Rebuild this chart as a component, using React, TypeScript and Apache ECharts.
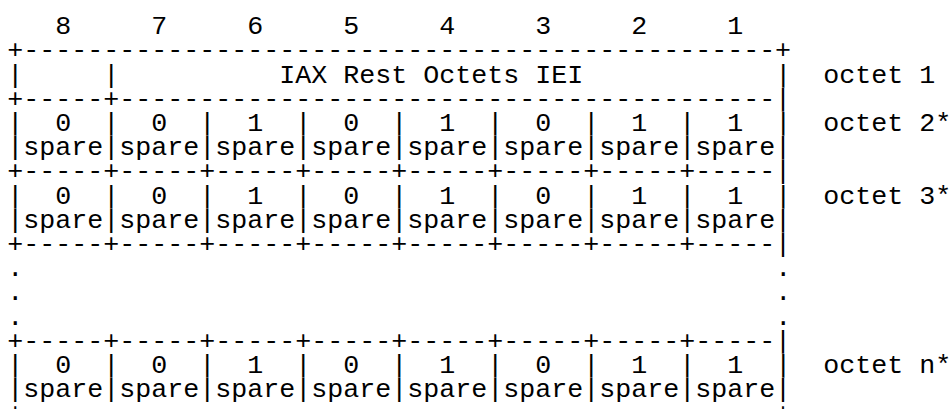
import React, { useEffect, useRef } from 'react';
import * as echarts from 'echarts';

// ---- data ----
const bitNumbers = [8, 7, 6, 5, 4, 3, 2, 1];
const bitValues = [0, 0, 1, 0, 1, 0, 1, 1];
const fieldName = 'spare';
const ieiName = 'IAX Rest Octets IEI';
const octetLabels = ['octet 1', 'octet 2*', 'octet 3*', 'octet n*'];

// ---- layout ----
const CELL = 5;
const IEI_INDENT = 10;
const FONT_SIZE = 26.66;
const COL_W = 16;
const LINE_H = 24.2;
const X0 = 7.3;
const Y0 = 27.2;
const W = 950;
const H = 409;

function buildLines(): string[] {
  const inner = bitNumbers.length * (CELL + 1) - 1;
  const header = bitNumbers.map((n) => '   ' + n + '  ').join('');
  const fullBorder = '+' + '-'.repeat(inner) + '+';
  const cellBorder = bitNumbers.map(() => '+' + '-'.repeat(CELL)).join('') + '|';
  const valueRow = (label: string) => bitValues.map((v) => '|  ' + v + '  ').join('') + '|  ' + label;
  const nameRow = bitValues.map(() => '|' + fieldName).join('') + '|';
  const ieiInner = inner - CELL - 1;
  const ieiRow = '|' + ' '.repeat(CELL) + '|' + (' '.repeat(IEI_INDENT) + ieiName).padEnd(ieiInner) + '|  ' + octetLabels[0];
  const ieiBorder = '+' + '-'.repeat(CELL) + '+' + '-'.repeat(ieiInner) + '|';
  const dots = '.' + ' '.repeat(inner) + '.';
  return [
    header,
    fullBorder,
    ieiRow,
    ieiBorder,
    valueRow(octetLabels[1]),
    nameRow,
    cellBorder,
    valueRow(octetLabels[2]),
    nameRow,
    cellBorder,
    dots,
    dots,
    dots,
    cellBorder,
    valueRow(octetLabels[3]),
    nameRow,
    fullBorder,
  ];
}

type Token = { col: number; line: number; text: string };

function tokenize(lines: string[]): Token[] {
  const out: Token[] = [];
  lines.forEach((s, line) => {
    const re = /\S+(?: \S+)*/g;
    let m: RegExpExecArray | null;
    while ((m = re.exec(s)) !== null) {
      out.push({ col: m.index, line, text: m[0] });
    }
  });
  return out;
}

export default function App() {
  const ref = useRef<HTMLDivElement>(null);
  useEffect(() => {
    if (!ref.current) return;
    const chart = echarts.init(ref.current, undefined, { renderer: 'svg' });
    const tokens = tokenize(buildLines());
    chart.setOption({
      animation: false,
      backgroundColor: '#ffffff',
      grid: { left: 0, right: 0, top: 0, bottom: 0 },
      xAxis: {
        type: 'value',
        min: -X0 / COL_W,
        max: (W - X0) / COL_W,
        show: false,
      },
      yAxis: {
        type: 'value',
        inverse: true,
        min: -Y0 / LINE_H,
        max: (H - Y0) / LINE_H,
        show: false,
      },
      series: [
        {
          type: 'custom',
          clip: false,
          silent: true,
          data: tokens.map((t) => ({ value: [t.col, t.line], name: t.text })),
          renderItem: (params: any, api: any) => {
            const p = api.coord([api.value(0), api.value(1)]);
            const t = tokens[params.dataIndex];
            return {
              type: 'text',
              x: p[0],
              y: p[1],
              style: {
                text: t.text,
                font: `${FONT_SIZE}px "Liberation Mono"`,
                fill: '#000000',
                stroke: '#ffffff',
                lineWidth: 0.6,
                textAlign: 'left',
                textVerticalAlign: 'middle',
                align: 'left',
                verticalAlign: 'middle',
              },
            };
          },
        },
      ],
    });
    return () => chart.dispose();
  }, []);
  return (
    <div
      ref={ref}
      style={{ position: 'absolute', left: 0, top: 0, width: W, height: H, background: '#fff' }}
    />
  );
}
